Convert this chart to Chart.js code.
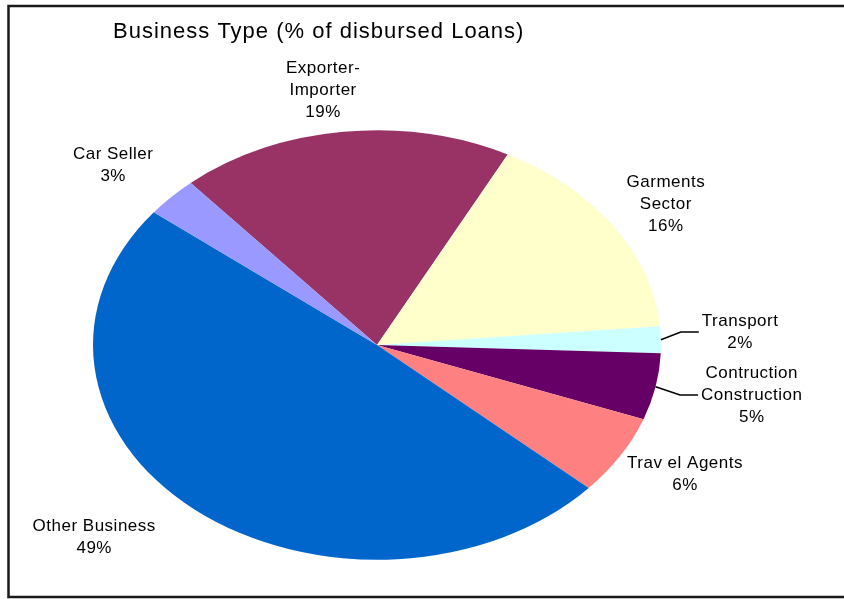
<!DOCTYPE html>
<html>
<head>
<meta charset="utf-8">
<script src="https://cdn.jsdelivr.net/npm/chart.js@4.4.0/dist/chart.umd.min.js"></script>
<style>
  html, body { margin: 0; padding: 0; background: #fff; }
  #wrap { width: 844px; height: 599px; }
</style>
</head>
<body>
<div id="wrap"><canvas id="myChart" width="844" height="599"></canvas></div>
<script>
var categories = ["Exporter-Importer", "Garments Sector", "Transport", "Contruction Construction", "Trav el Agents", "Other Business", "Car Seller"];
var labelLines = [["Exporter-", "Importer"], ["Garments", "Sector"], ["Transport"], ["Contruction", "Construction"], ["Trav el Agents"], ["Other Business"], ["Car Seller"]];
var shares = [19, 16, 2, 5, 6, 49, 3];
var colors = ['#993366', '#FFFFCC', '#CCFFFF', '#660066', '#FF8080', '#0066CC', '#9999FF'];

var title = "Business Type (% of disbursed Loans)";
var SQUASH = 0.756;              // pie is drawn as an ellipse, flattened vertically
var FONT = '"Liberation Sans", Arial, sans-serif';

// where each label sits: [angle shift from slice middle (deg), distance as a fraction of the radius]
var labelSpot = [[-2.3, 1.20], [1.0, 1.21], [-1.3, 1.28], [-1.2, 1.34], [-2.0, 1.24], [8.0, 1.34], [-1.6, 1.25]];
var leader = [false, false, true, true, false, false, false];

var squash = {
  id: 'squash',
  beforeDatasetsDraw: function(chart) {
    var arc = chart.getDatasetMeta(0).data[0];
    var ctx = chart.ctx;
    ctx.save();
    ctx.translate(arc.x, arc.y);
    ctx.scale(1, SQUASH);
    ctx.translate(-arc.x, -arc.y);
  },
  afterDatasetsDraw: function(chart) {
    chart.ctx.restore();
  }
};

var decor = {
  id: 'decor',
  beforeDraw: function(chart) {
    var ctx = chart.ctx;
    ctx.save();
    ctx.fillStyle = '#fff';
    ctx.fillRect(0, 0, chart.width, chart.height);
    ctx.strokeStyle = '#1a1a1a';
    ctx.lineWidth = 2.5;
    ctx.strokeRect(8.5, 6, 860, 591);
    ctx.restore();
  },
  afterDraw: function(chart) {
    var ctx = chart.ctx;
    var arcs = chart.getDatasetMeta(0).data;
    ctx.save();
    ctx.fillStyle = '#000';
    ctx.textBaseline = 'alphabetic';
    ctx.textAlign = 'left';
    ctx.font = '22px ' + FONT;
    ctx.letterSpacing = '1px';
    ctx.fillText(title, 113, 37.5);

    ctx.font = '17px ' + FONT;
    ctx.letterSpacing = '0.5px';
    ctx.textAlign = 'center';
    ctx.textBaseline = 'middle';
    arcs.forEach(function(arc, i) {
      var r = arc.outerRadius;
      var mid = (arc.startAngle + arc.endAngle) / 2;
      var a = mid + labelSpot[i][0] * Math.PI / 180;
      var d = r * labelSpot[i][1];
      var cx = arc.x + d * Math.cos(a);
      var cy = arc.y + d * Math.sin(a) * SQUASH;
      var lines = labelLines[i].concat([shares[i] + '%']);
      var step = 22;
      var top = cy - (lines.length - 1) * step / 2;
      var maxW = 0;
      lines.forEach(function(t, k) {
        ctx.fillText(t, cx, top + k * step);
        maxW = Math.max(maxW, ctx.measureText(t).width);
      });
      if (leader[i]) {
        var left = cx - maxW / 2;
        ctx.strokeStyle = '#000';
        ctx.lineWidth = 1.5;
        ctx.beginPath();
        ctx.moveTo(arc.x + r * Math.cos(mid), arc.y + r * Math.sin(mid) * SQUASH);
        ctx.lineTo(left - 21, cy);
        ctx.lineTo(left - 3, cy);
        ctx.stroke();
      }
    });
    ctx.restore();
  }
};

var chart = new Chart('myChart', {
  type: 'pie',
  data: {
    labels: categories,
    datasets: [{
      data: shares,
      backgroundColor: colors,
      borderWidth: 0
    }]
  },
  options: {
    responsive: false,
    animation: false,
    rotation: -41,
    radius: 284,
    layout: { padding: { left: 0, right: 90, top: 91, bottom: 0 } },
    plugins: {
      legend: { display: false },
      tooltip: { enabled: false }
    }
  },
  plugins: [squash, decor]
});
</script>
</body>
</html>
